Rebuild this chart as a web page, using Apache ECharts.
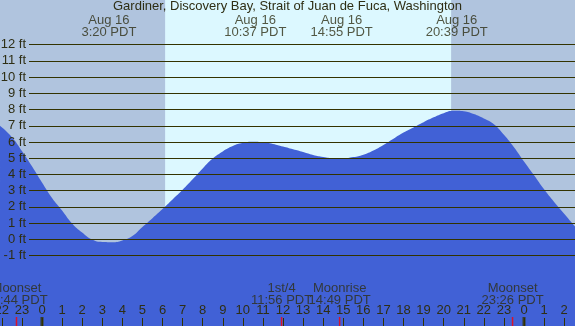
<!DOCTYPE html>
<html><head><meta charset="utf-8">
<script src="https://cdn.jsdelivr.net/npm/echarts@6/dist/echarts.min.js"></script>
<style>html,body{margin:0;padding:0;background:#B0C4DE}#c{width:575px;height:326px}</style>
</head><body><div id="c"></div>
<script>
// Tide curve, hours since midnight Aug 16 (PDT), feet
const tideHours = [-2.09, -1.5, -1.0, -0.5, 0.0, 0.5, 1.0, 1.5, 2.0, 2.5, 3.0, 3.5, 4.0, 4.5, 5.0, 5.5, 6.0, 6.5, 7.0, 7.5, 8.0, 8.5, 9.0, 9.5, 10.0, 10.5, 11.0, 11.5, 12.0, 12.5, 13.0, 13.5, 14.0, 14.5, 15.0, 15.5, 16.0, 16.5, 17.0, 17.5, 18.0, 18.5, 19.0, 19.5, 20.0, 20.5, 21.0, 21.5, 22.0, 22.5, 23.0, 23.5, 24.0, 24.5, 25.0, 25.5, 26.0, 26.54];
const tideFeet  = [7.0, 6.3, 5.45, 4.5, 3.5, 2.55, 1.78, 0.98, 0.42, -0.02, -0.17, -0.18, -0.07, 0.2, 0.76, 1.3, 1.86, 2.45, 3.05, 3.7, 4.37, 4.98, 5.42, 5.75, 5.95, 6.02, 5.98, 5.88, 5.72, 5.55, 5.38, 5.2, 5.08, 5.01, 5.0, 5.07, 5.22, 5.48, 5.82, 6.2, 6.58, 6.9, 7.22, 7.52, 7.78, 7.93, 7.9, 7.72, 7.45, 7.1, 6.45, 5.68, 4.8, 3.95, 3.08, 2.3, 1.57, 0.78];

const extremeHours = [3.33, 10.62, 14.92, 20.65];
const extremeDates = ['Aug 16', 'Aug 16', 'Aug 16', 'Aug 16'];
const extremeTimes = ['3:20 PDT', '10:37 PDT', '14:55 PDT', '20:39 PDT'];

const moonHours = [-1.27, 11.93, 14.82, 23.43];
const moonNames = ['Moonset', '1st/4', 'Moonrise', 'Moonset'];
const moonTimes = ['22:44 PDT', '11:56 PDT', '14:49 PDT', '23:26 PDT'];

const midnightHours = [0, 24];
const sunriseHour = 6.13;
const sunsetHour = 20.37;

const titleText = 'Gardiner, Discovery Bay, Strait of Juan de Fuca, Washington';
const ftTicksMin = -1, ftTicksMax = 12;
const hourTicksMin = -2, hourTicksMax = 26;

const X_MIN = -2.0913, X_MAX = 26.539;
const Y_MIN = -5.35, Y_MAX = 14.76;
const PX_PER_HOUR = 575 / (X_MAX - X_MIN);

const ink = '#2e2e14';
const lineInk = '#333300';
const font = 'Liberation Sans';

const hourLabel = v => String(((Math.round(v) % 24) + 24) % 24);

const chart = echarts.init(document.getElementById('c'));
chart.setOption({
  animation: false,
  backgroundColor: '#B0C4DE',
  textStyle: { fontFamily: font },
  title: {
    text: titleText, left: 'center', top: 0, padding: 0,
    textStyle: { fontSize: 13, fontWeight: 'normal', color: ink, fontFamily: font }
  },
  grid: [
    { left: 0, right: 0, top: 0, bottom: 0, containLabel: false, outerBoundsMode: 'none' },
    { left: 29, right: 0, top: 44.7, bottom: 70.5, containLabel: false, outerBoundsMode: 'none' },
    { left: (hourTicksMin - X_MIN) * PX_PER_HOUR, right: (X_MAX - hourTicksMax) * PX_PER_HOUR,
      top: 318, bottom: 0, containLabel: false, outerBoundsMode: 'none' }
  ],
  xAxis: [
    { gridIndex: 0, type: 'value', min: X_MIN, max: X_MAX, show: false, axisLine: { onZero: false } },
    { gridIndex: 1, type: 'value', min: 0, max: 1, show: false, axisLine: { onZero: false } },
    {
      gridIndex: 2, type: 'value', position: 'top', min: hourTicksMin, max: hourTicksMax, interval: 1, z: 5,
      axisLine: { show: false, onZero: false }, splitLine: { show: false },
      axisTick: { inside: true, length: 8, lineStyle: { color: lineInk, width: 1 } },
      axisLabel: {
        margin: 1, interval: 0, showMinLabel: true, showMaxLabel: true, hideOverlap: false,
        color: ink, fontSize: 13, fontFamily: font, formatter: hourLabel
      }
    }
  ],
  yAxis: [
    { gridIndex: 0, type: 'value', min: Y_MIN, max: Y_MAX, show: false, axisLine: { onZero: false } },
    {
      gridIndex: 1, type: 'value', min: ftTicksMin, max: ftTicksMax, interval: 1, z: 5,
      axisLine: { show: false, onZero: false }, axisTick: { show: false },
      splitLine: { show: true, lineStyle: { color: lineInk, width: 1 } },
      axisLabel: { margin: 3, formatter: '{value} ft', color: ink, fontSize: 13, fontFamily: font }
    },
    { gridIndex: 2, type: 'value', min: 0, max: 1, show: false, axisLine: { onZero: false } }
  ],
  series: [
    {
      type: 'line', xAxisIndex: 0, yAxisIndex: 0, z: 1, silent: true,
      data: [[sunriseHour, Y_MIN], [sunsetHour, Y_MIN]],
      showSymbol: false, symbol: 'none', lineStyle: { width: 0, opacity: 0 },
      markArea: { silent: true, itemStyle: { color: '#DCF8FF' },
        data: [[{ xAxis: sunriseHour }, { xAxis: sunsetHour }]] }
    },
    {
      type: 'line', xAxisIndex: 0, yAxisIndex: 0, z: 2, silent: true,
      data: tideHours.map((h, i) => [h, tideFeet[i]]),
      smooth: 0.5, symbol: 'none',
      lineStyle: { width: 0 },
      areaStyle: { color: '#4161D6', opacity: 1, origin: 'start' }
    },
    {
      type: 'scatter', xAxisIndex: 0, yAxisIndex: 0, z: 6, silent: true, symbolSize: 0,
      data: extremeHours.map((h, i) => ({ value: [h, Y_MAX], name: extremeDates[i] + '\n' + extremeTimes[i] })),
      label: { show: true, position: 'bottom', distance: 14, lineHeight: 12,
        formatter: p => p.name, color: ink, fontSize: 13, fontFamily: font }
    },
    {
      type: 'scatter', xAxisIndex: 0, yAxisIndex: 0, z: 6, silent: true, symbolSize: 0,
      data: moonHours.map((h, i) => ({ value: [h, Y_MIN], name: moonNames[i] + '\n' + moonTimes[i] })),
      label: { show: true, position: 'top', distance: 19, lineHeight: 12.5,
        formatter: p => p.name, color: ink, fontSize: 13, fontFamily: font }
    },
    {
      type: 'scatter', xAxisIndex: 0, yAxisIndex: 0, z: 7, silent: true,
      symbol: 'rect', symbolSize: [1.5, 9], symbolOffset: [0, '-50%'],
      itemStyle: { color: '#FF0000' },
      data: moonHours.map(h => [h, Y_MIN])
    },
    {
      type: 'scatter', xAxisIndex: 0, yAxisIndex: 0, z: 7, silent: true,
      symbol: 'rect', symbolSize: [3, 9], symbolOffset: [0, '-50%'],
      itemStyle: { color: lineInk },
      data: midnightHours.map(h => [h, Y_MIN])
    }
  ]
});
</script></body></html>
